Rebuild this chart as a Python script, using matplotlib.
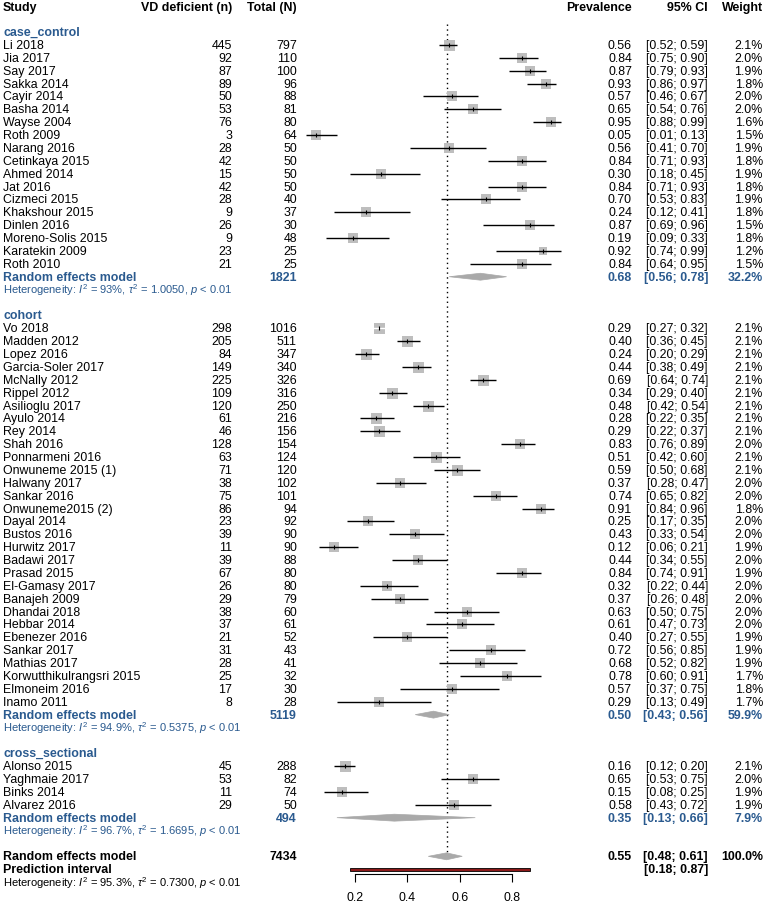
"""
plot.py
Forest plot of vitamin D deficiency prevalence by study design.
"""

import numpy as np
import matplotlib.pyplot as plt
from matplotlib.patches import Polygon, Rectangle

# ---- case_control studies ----
cc_study = ["Li 2018", "Jia 2017", "Say 2017", "Sakka 2014", "Cayir 2014", "Basha 2014",
            "Wayse 2004", "Roth 2009", "Narang 2016", "Cetinkaya 2015", "Ahmed 2014",
            "Jat 2016", "Cizmeci 2015", "Khakshour 2015", "Dinlen 2016",
            "Moreno-Solis 2015", "Karatekin 2009", "Roth 2010"]
cc_events = [445, 92, 87, 89, 50, 53, 76, 3, 28, 42, 15, 42, 28, 9, 26, 9, 23, 21]
cc_total = [797, 110, 100, 96, 88, 81, 80, 64, 50, 50, 50, 50, 40, 37, 30, 48, 25, 25]
cc_prev = [0.56, 0.84, 0.87, 0.93, 0.57, 0.65, 0.95, 0.05, 0.56, 0.84, 0.30, 0.84,
           0.70, 0.24, 0.87, 0.19, 0.92, 0.84]
cc_lower = [0.52, 0.75, 0.79, 0.86, 0.46, 0.54, 0.88, 0.01, 0.41, 0.71, 0.18, 0.71,
            0.53, 0.12, 0.69, 0.09, 0.74, 0.64]
cc_upper = [0.59, 0.90, 0.93, 0.97, 0.67, 0.76, 0.99, 0.13, 0.70, 0.93, 0.45, 0.93,
            0.83, 0.41, 0.96, 0.33, 0.99, 0.95]
cc_weight = [2.1, 2.0, 1.9, 1.8, 2.0, 2.0, 1.6, 1.5, 1.9, 1.8, 1.9, 1.8, 1.9, 1.8,
             1.5, 1.8, 1.2, 1.5]
cc_pooled = [0.68, 0.56, 0.78]
cc_pooled_weight = 32.2
cc_het = ["93%", "1.0050"]

# ---- cohort studies ----
co_study = ["Vo 2018", "Madden 2012", "Lopez 2016", "Garcia-Soler 2017", "McNally 2012",
            "Rippel 2012", "Asilioglu 2017", "Ayulo 2014", "Rey 2014", "Shah 2016",
            "Ponnarmeni 2016", "Onwuneme 2015 (1)", "Halwany 2017", "Sankar 2016",
            "Onwuneme2015 (2)", "Dayal 2014", "Bustos 2016", "Hurwitz 2017",
            "Badawi 2017", "Prasad 2015", "El-Gamasy 2017", "Banajeh 2009",
            "Dhandai 2018", "Hebbar 2014", "Ebenezer 2016", "Sankar 2017",
            "Mathias 2017", "Korwutthikulrangsri 2015", "Elmoneim 2016", "Inamo 2011"]
co_events = [298, 205, 84, 149, 225, 109, 120, 61, 46, 128, 63, 71, 38, 75, 86, 23,
             39, 11, 39, 67, 26, 29, 38, 37, 21, 31, 28, 25, 17, 8]
co_total = [1016, 511, 347, 340, 326, 316, 250, 216, 156, 154, 124, 120, 102, 101, 94,
            92, 90, 90, 88, 80, 80, 79, 60, 61, 52, 43, 41, 32, 30, 28]
co_prev = [0.29, 0.40, 0.24, 0.44, 0.69, 0.34, 0.48, 0.28, 0.29, 0.83, 0.51, 0.59,
           0.37, 0.74, 0.91, 0.25, 0.43, 0.12, 0.44, 0.84, 0.32, 0.37, 0.63, 0.61,
           0.40, 0.72, 0.68, 0.78, 0.57, 0.29]
co_lower = [0.27, 0.36, 0.20, 0.38, 0.64, 0.29, 0.42, 0.22, 0.22, 0.76, 0.42, 0.50,
            0.28, 0.65, 0.84, 0.17, 0.33, 0.06, 0.34, 0.74, 0.22, 0.26, 0.50, 0.47,
            0.27, 0.56, 0.52, 0.60, 0.37, 0.13]
co_upper = [0.32, 0.45, 0.29, 0.49, 0.74, 0.40, 0.54, 0.35, 0.37, 0.89, 0.60, 0.68,
            0.47, 0.82, 0.96, 0.35, 0.54, 0.21, 0.55, 0.91, 0.44, 0.48, 0.75, 0.73,
            0.55, 0.85, 0.82, 0.91, 0.75, 0.49]
co_weight = [2.1, 2.1, 2.1, 2.1, 2.1, 2.1, 2.1, 2.1, 2.1, 2.0, 2.1, 2.1, 2.0, 2.0, 1.8,
             2.0, 2.0, 1.9, 2.0, 1.9, 2.0, 2.0, 2.0, 2.0, 1.9, 1.9, 1.9, 1.7, 1.8, 1.7]
co_pooled = [0.50, 0.43, 0.56]
co_pooled_weight = 59.9
co_het = ["94.9%", "0.5375"]

# ---- cross_sectional studies ----
cs_study = ["Alonso 2015", "Yaghmaie 2017", "Binks 2014", "Alvarez 2016"]
cs_events = [45, 53, 11, 29]
cs_total = [288, 82, 74, 50]
cs_prev = [0.16, 0.65, 0.15, 0.58]
cs_lower = [0.12, 0.53, 0.08, 0.43]
cs_upper = [0.20, 0.75, 0.25, 0.72]
cs_weight = [2.1, 2.0, 1.9, 1.9]
cs_pooled = [0.35, 0.13, 0.66]
cs_pooled_weight = 7.9
cs_het = ["96.7%", "1.6695"]

# ---- overall ----
overall_pooled = [0.55, 0.48, 0.61]
pred_interval = [0.18, 0.87]
overall_het = ["95.3%", "0.7300"]
x_ticks = [0.2, 0.4, 0.6, 0.8]

# layout (pixels of the 767x904 output)
FIG_W, FIG_H, DPI = 767, 904, 100
ROW0_PX, ROW_PX = 33.0, 12.88          # first group label, row height
FP_LEFT, FP_RIGHT, FP_BOTTOM = 303, 564, 875
COL_STUDY, COL_EVENTS, COL_TOTAL = 3, 232, 297
COL_PREV, COL_CI, COL_WEIGHT = 632, 708, 763

BLUE = "#2A5A8F"
SQUARE = "#BEBEBE"
DIAMOND = "#A9A9A9"
FS = 8.9
FS_HET = 8.0

plt.rcParams["font.family"] = ["Liberation Sans", "DejaVu Sans"]
plt.rcParams["mathtext.fontset"] = "custom"
plt.rcParams["mathtext.rm"] = "Liberation Sans"
plt.rcParams["mathtext.it"] = "Liberation Sans:italic"
plt.rcParams["mathtext.bf"] = "Liberation Sans:bold"


def px_to_row(px):
    """Convert a vertical pixel position to a row coordinate."""
    return (px - ROW0_PX) / ROW_PX


def het_text(het):
    """Heterogeneity line in meta style."""
    return (r"Heterogeneity: $I^2$ = " + het[0] + r", $\tau^2$ = " + het[1]
            + r", $p$ < 0.01")


def draw_study(ax_t, ax_f, row, name, ev, tot, p, lo, hi, w, px_per_unit):
    """One study row: text columns plus square and CI line."""
    ax_t.text(COL_STUDY, row, name, fontsize=FS, va="center", ha="left")
    ax_t.text(COL_EVENTS, row, f"{ev}", fontsize=FS, va="center", ha="right")
    ax_t.text(COL_TOTAL, row, f"{tot}", fontsize=FS, va="center", ha="right")
    ax_t.text(COL_PREV, row, f"{p:.2f}", fontsize=FS, va="center", ha="right")
    ax_t.text(COL_CI, row, f"[{lo:.2f}; {hi:.2f}]", fontsize=FS, va="center", ha="right")
    ax_t.text(COL_WEIGHT, row, f"{w:.1f}%", fontsize=FS, va="center", ha="right")

    side_px = 11.0 * np.sqrt(w / 2.1)
    side_pt = side_px * 72 / DPI
    ax_f.scatter([p], [row], marker="s", s=side_pt ** 2, color=SQUARE,
                 linewidths=0, zorder=2)
    inside = (hi - lo) * px_per_unit < side_px + 3
    ax_f.plot([lo, hi], [row, row], color="white" if inside else "black",
              lw=1.0, solid_capstyle="butt", zorder=3)
    ax_f.scatter([p], [row], marker="|", s=9, color="black", linewidths=0.8, zorder=4)


def draw_diamond(ax_f, row, pooled, half=0.27):
    """Pooled estimate diamond."""
    est, lo, hi = pooled
    pts = [(lo, row), (est, row - half), (hi, row), (est, row + half)]
    ax_f.add_patch(Polygon(pts, closed=True, facecolor=DIAMOND, edgecolor=DIAMOND,
                           lw=0.5, zorder=2))


def draw_group(ax_t, ax_f, row, label, study, events, total, prev, lower, upper,
               weight, pooled, pooled_weight, het, px_per_unit):
    """Draw one subgroup block and return the next free row."""
    ax_t.text(COL_STUDY, row, label, fontsize=FS, fontweight="bold",
              color=BLUE, va="center", ha="left")
    row += 1
    for i in range(len(study)):
        draw_study(ax_t, ax_f, row, study[i], events[i], total[i], prev[i],
                   lower[i], upper[i], weight[i], px_per_unit)
        row += 1

    est, lo, hi = pooled
    kw = dict(fontsize=FS, fontweight="bold", color=BLUE, va="center")
    ax_t.text(COL_STUDY, row, "Random effects model", ha="left", **kw)
    ax_t.text(COL_TOTAL, row, f"{sum(total)}", ha="right", **kw)
    ax_t.text(COL_PREV, row, f"{est:.2f}", ha="right", **kw)
    ax_t.text(COL_CI, row, f"[{lo:.2f}; {hi:.2f}]", ha="right", **kw)
    ax_t.text(COL_WEIGHT, row, f"{pooled_weight:.1f}%", ha="right", **kw)
    draw_diamond(ax_f, row, pooled)
    row += 1
    ax_t.text(COL_STUDY, row, het_text(het), fontsize=FS_HET, color=BLUE,
              va="center", ha="left")
    return row + 2


def main():
    fig = plt.figure(figsize=(FIG_W / DPI, FIG_H / DPI), dpi=DPI)

    # text layer over the whole figure, x in pixels, y in rows
    ax_t = fig.add_axes([0, 0, 1, 1])
    ax_t.set_xlim(0, FIG_W)
    ax_t.set_ylim(px_to_row(FIG_H), px_to_row(0))
    ax_t.axis("off")

    # forest panel
    ax_f = fig.add_axes([FP_LEFT / FIG_W, (FIG_H - FP_BOTTOM) / FIG_H,
                         (FP_RIGHT - FP_LEFT) / FIG_W, FP_BOTTOM / FIG_H])
    ax_f.set_xlim(0, 1)
    ax_f.set_ylim(px_to_row(FP_BOTTOM), px_to_row(0))
    ax_f.patch.set_alpha(0)
    for side in ["top", "left", "right"]:
        ax_f.spines[side].set_visible(False)
    ax_f.spines["bottom"].set_bounds(x_ticks[0], x_ticks[-1])
    ax_f.spines["bottom"].set_linewidth(0.8)
    ax_f.set_xticks(x_ticks)
    ax_f.set_xticklabels([f"{t:g}" for t in x_ticks])
    ax_f.tick_params(axis="x", direction="out", length=5.8, width=0.8, pad=6.5,
                     labelsize=FS)
    ax_f.set_yticks([])
    px_per_unit = FP_RIGHT - FP_LEFT

    # header
    hrow = px_to_row(8)
    hkw = dict(fontsize=FS, fontweight="bold", va="center")
    ax_t.text(COL_STUDY, hrow, "Study", ha="left", **hkw)
    ax_t.text(COL_EVENTS, hrow, "VD deficient (n)", ha="right", **hkw)
    ax_t.text(COL_TOTAL, hrow, "Total (N)", ha="right", **hkw)
    ax_t.text(COL_PREV, hrow, "Prevalence", ha="right", **hkw)
    ax_t.text(COL_CI, hrow, "95% CI", ha="right", **hkw)
    ax_t.text(COL_WEIGHT, hrow, "Weight", ha="right", **hkw)

    row = 0
    row = draw_group(ax_t, ax_f, row, "case_control", cc_study, cc_events, cc_total,
                     cc_prev, cc_lower, cc_upper, cc_weight, cc_pooled,
                     cc_pooled_weight, cc_het, px_per_unit)
    row = draw_group(ax_t, ax_f, row, "cohort", co_study, co_events, co_total,
                     co_prev, co_lower, co_upper, co_weight, co_pooled,
                     co_pooled_weight, co_het, px_per_unit)
    row = draw_group(ax_t, ax_f, row, "cross_sectional", cs_study, cs_events, cs_total,
                     cs_prev, cs_lower, cs_upper, cs_weight, cs_pooled,
                     cs_pooled_weight, cs_het, px_per_unit)

    # overall estimate
    n_all = sum(cc_total) + sum(co_total) + sum(cs_total)
    est, lo, hi = overall_pooled
    kw = dict(fontsize=FS, fontweight="bold", color="black", va="center")
    ax_t.text(COL_STUDY, row, "Random effects model", ha="left", **kw)
    ax_t.text(COL_TOTAL, row, f"{n_all}", ha="right", **kw)
    ax_t.text(COL_PREV, row, f"{est:.2f}", ha="right", **kw)
    ax_t.text(COL_CI, row, f"[{lo:.2f}; {hi:.2f}]", ha="right", **kw)
    ax_t.text(COL_WEIGHT, row, "100.0%", ha="right", **kw)
    draw_diamond(ax_f, row, overall_pooled)

    # dotted reference line at the overall estimate
    ax_f.plot([est, est], [px_to_row(25), row - 0.27], color="black", lw=1.0,
              linestyle=(0, (1, 2.5)), zorder=1)

    row += 1
    ax_t.text(COL_STUDY, row, "Prediction interval", ha="left", **kw)
    ax_t.text(COL_CI, row, f"[{pred_interval[0]:.2f}; {pred_interval[1]:.2f}]",
              ha="right", **kw)
    ax_f.add_patch(Rectangle((pred_interval[0], row - 0.13),
                             pred_interval[1] - pred_interval[0], 0.26,
                             facecolor="#8B1A1A", edgecolor="black", lw=0.6, zorder=2))
    row += 1
    ax_t.text(COL_STUDY, row, het_text(overall_het), fontsize=FS_HET, color="black",
              va="center", ha="left")

    fig.savefig("out.png", dpi=DPI)
    plt.close(fig)


if __name__ == "__main__":
    main()
